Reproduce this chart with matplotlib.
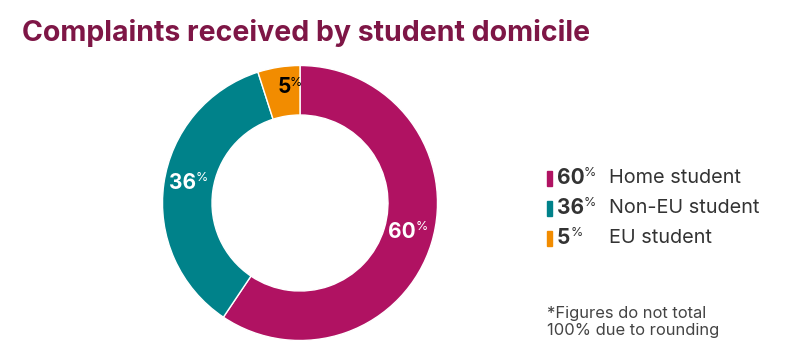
import matplotlib.pyplot as plt
import numpy as np

labels = ["Home student", "Non-EU student", "EU student"]
values = [60, 36, 5]
colors = ["#B01262", "#00828A", "#F28C00"]
label_colors = ["white", "white", "black"]

title = "Complaints received by student domicile"
note = "*Figures do not total\n100% due to rounding"

plt.rcParams["font.family"] = ["Inter", "DejaVu Sans"]

W, H = 786, 358
fig = plt.figure(figsize=(W / 100, H / 100), dpi=100)

cx, cy, r = 300, 203, 137.5
ax = fig.add_axes([(cx - r) / W, (H - cy - r) / H, 2 * r / W, 2 * r / H])
wedges, _ = ax.pie(values, colors=colors, startangle=90, counterclock=False,
                   radius=1, wedgeprops=dict(width=0.36, edgecolor="white", linewidth=1))
ax.set_xlim(-1, 1)
ax.set_ylim(-1, 1)
ax.set_aspect("equal")
ax.axis("off")

# value labels on the ring
for w, v, c in zip(wedges, values, label_colors):
    ang = np.deg2rad((w.theta1 + w.theta2) / 2)
    x, y = 0.82 * np.cos(ang), 0.82 * np.sin(ang) + 0.03
    ax.text(x + 0.06, y, str(v), ha="right", va="center", fontsize=15,
            fontweight="bold", color=c)
    ax.text(x + 0.055, y + 0.035, "%", ha="left", va="center", fontsize=9,
            color=c)

fig.text(22 / W, 1 - 33 / H, title, ha="left", va="center", fontsize=20.5,
         fontweight="bold", color="#7E1646")

# legend
rows = [178, 208, 238]
for yy, lab, v, c in zip(rows, labels, values, colors):
    fig.patches.append(plt.Rectangle((547 / W, 1 - (yy + 8) / H), 4.5 / W, 15 / H,
                                     transform=fig.transFigure, color=c))
    fig.text(557 / W, 1 - yy / H, str(v), ha="left", va="center", fontsize=15,
             fontweight="bold", color="#333333")
    fig.text((557 + 13 * len(str(v)) + 1) / W, 1 - (yy - 5) / H, "%", ha="left",
             va="center", fontsize=9, color="#333333")
    fig.text(609 / W, 1 - yy / H, lab, ha="left", va="center", fontsize=14.3,
             color="#333333")

fig.text(547 / W, 1 - 322 / H, note, ha="left", va="center", fontsize=11.9,
         color="#444444", linespacing=1.1)

fig.savefig("out.png", dpi=100)
